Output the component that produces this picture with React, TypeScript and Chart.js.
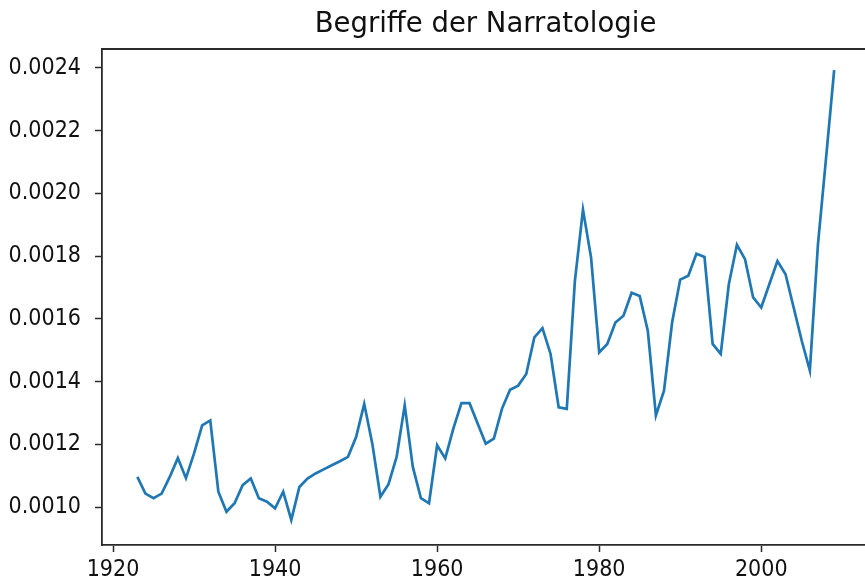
import React, { useEffect, useRef } from "react";
import { Chart, registerables } from "chart.js";

Chart.register(...registerables);

const TITLE = "Begriffe der Narratologie";

const years: number[] = [
  1923, 1924, 1925, 1926, 1927, 1928, 1929, 1930, 1931, 1932,
  1933, 1934, 1935, 1936, 1937, 1938, 1939, 1940, 1941, 1942,
  1943, 1944, 1945, 1946, 1947, 1948, 1949, 1950, 1951, 1952,
  1953, 1954, 1955, 1956, 1957, 1958, 1959, 1960, 1961, 1962,
  1963, 1964, 1965, 1966, 1967, 1968, 1969, 1970, 1971, 1972,
  1973, 1974, 1975, 1976, 1977, 1978, 1979, 1980, 1981, 1982,
  1983, 1984, 1985, 1986, 1987, 1988, 1989, 1990, 1991, 1992,
  1993, 1994, 1995, 1996, 1997, 1998, 1999, 2000, 2001, 2002,
  2003, 2004, 2005, 2006, 2007, 2008, 2009,
];

const values: number[] = [
  0.001096, 0.001043, 0.001028, 0.001043, 0.001096, 0.001156, 0.001092, 0.001171, 0.00126, 0.001276,
  0.001049, 0.000985, 0.001012, 0.00107, 0.001091, 0.001028, 0.001017, 0.000996, 0.001049, 0.000959,
  0.001064, 0.001091, 0.001107, 0.00112, 0.001133, 0.001146, 0.00116, 0.001223, 0.001329, 0.001202,
  0.001033, 0.001073, 0.00116, 0.001324, 0.001128, 0.001028, 0.001012, 0.001197, 0.001155, 0.00125,
  0.001331, 0.001331, 0.001266, 0.001202, 0.001218, 0.001313, 0.001374, 0.001387, 0.001424, 0.001541,
  0.00157, 0.001488, 0.001318, 0.001313, 0.00172, 0.001948, 0.001795, 0.001493, 0.00152, 0.001588,
  0.00161, 0.001683, 0.001673, 0.001562, 0.001292, 0.001371, 0.001588, 0.001725, 0.001737, 0.001807,
  0.001797, 0.00152, 0.001488, 0.00171, 0.001836, 0.00179, 0.001668, 0.001636, 0.00171, 0.001784,
  0.001742, 0.001636, 0.00153, 0.001435, 0.001837, 0.002112, 0.002393,
];

const xTicks: number[] = [1920, 1940, 1960, 1980, 2000];
const yTicks: number[] = [0.001, 0.0012, 0.0014, 0.0016, 0.0018, 0.002, 0.0022, 0.0024];

const X_MIN = 1918.64;
const X_MAX = 2013.3;
const Y_MIN = 0.000879;
const Y_MAX = 0.00246;

const frame = {
  id: "frame",
  afterDatasetsDraw(chart: any) {
    const { ctx, chartArea } = chart;
    ctx.save();
    ctx.strokeStyle = "#2a2a2a";
    ctx.lineWidth = 1.8;
    ctx.beginPath();
    ctx.moveTo(chartArea.left, chartArea.top);
    ctx.lineTo(chartArea.right, chartArea.top);
    ctx.stroke();
    // title centred over the axes, as matplotlib does
    ctx.fillStyle = "#111";
    ctx.font = "27.5px 'DejaVu Sans', sans-serif";
    ctx.textAlign = "center";
    ctx.textBaseline = "alphabetic";
    ctx.fillText(TITLE, (chartArea.left + chartArea.right) / 2, chartArea.top - 17);
    ctx.restore();
  },
};

export default function App() {
  const ref = useRef<HTMLCanvasElement | null>(null);

  useEffect(() => {
    if (!ref.current) return;
    const tickFont = { family: "'DejaVu Sans Condensed', 'DejaVu Sans', sans-serif", size: 23 };
    const chart = new Chart(ref.current, {
      type: "line",
      data: {
        datasets: [
          {
            data: years.map((y, i) => ({ x: y, y: values[i] })),
            borderColor: "#1f77b4",
            borderWidth: 2.7,
            pointRadius: 0,
            tension: 0,
            fill: false,
          },
        ],
      },
      options: {
        animation: false,
        responsive: false,
        maintainAspectRatio: false,
        layout: { padding: { left: 0, right: 31, top: 49, bottom: 0 } },
        plugins: {
          legend: { display: false },
          tooltip: { enabled: false },
          title: { display: false, text: TITLE },
        },
        scales: {
          x: {
            type: "linear",
            min: X_MIN,
            max: X_MAX,
            afterBuildTicks: (scale: any) => {
              scale.ticks = xTicks.map((v) => ({ value: v }));
            },
            afterFit: (scale: any) => {
              scale.height = 39;
            },
            ticks: {
              color: "#111",
              font: tickFont,
              padding: 4,
              maxRotation: 0,
              autoSkip: false,
              callback: (v: any) => String(v),
            },
            grid: {
              display: true,
              drawOnChartArea: false,
              drawTicks: true,
              tickLength: 7,
              tickWidth: 1.5,
              tickColor: "#2a2a2a",
            },
            border: { display: true, color: "#2a2a2a", width: 1.8 },
          },
          y: {
            type: "linear",
            min: Y_MIN,
            max: Y_MAX,
            afterBuildTicks: (scale: any) => {
              scale.ticks = yTicks.map((v) => ({ value: v }));
            },
            afterFit: (scale: any) => {
              scale.width = 102;
            },
            ticks: {
              color: "#111",
              font: tickFont,
              padding: 14,
              autoSkip: false,
              callback: (v: any) => Number(v).toFixed(4),
            },
            grid: {
              display: true,
              drawOnChartArea: false,
              drawTicks: true,
              tickLength: 7,
              tickWidth: 1.5,
              tickColor: "#2a2a2a",
            },
            border: { display: true, color: "#2a2a2a", width: 1.8 },
          },
        },
      },
      plugins: [frame],
    });
    return () => chart.destroy();
  }, []);

  return (
    <div style={{ position: "fixed", left: 0, top: 0, width: 865, height: 584, overflow: "hidden", background: "#fff" }}>
      <canvas ref={ref} width={900} height={584} style={{ display: "block", width: 900, height: 584 }} />
    </div>
  );
}
